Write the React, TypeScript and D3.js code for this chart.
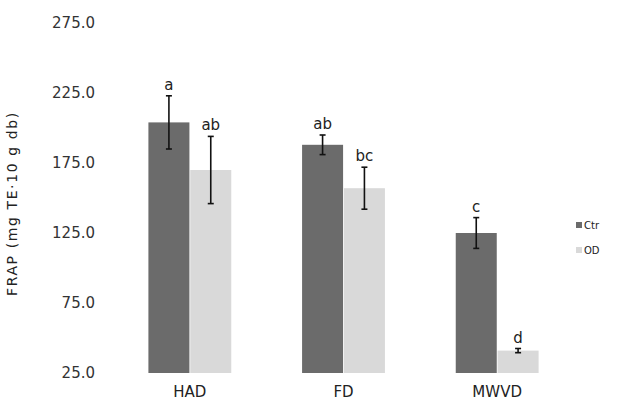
import React from "react";
import * as d3 from "d3";

// Chart data
const categories = ["HAD", "FD", "MWVD"];
const seriesNames = ["Ctr", "OD"];
const ctrValues = [204, 188, 125];
const odValues = [170, 157, 41];
const ctrErrors = [19, 7, 11];
const odErrors = [24, 15, 1.5];
const ctrLetters = ["a", "ab", "c"];
const odLetters = ["ab", "bc", "d"];
const yTicks = [25, 75, 125, 175, 225, 275];

const colors = ["#6b6b6b", "#d9d9d9"];

const width = 635;
const height = 418;

const App: React.FC = () => {
  const x = d3
    .scaleBand<string>()
    .domain(categories)
    .range([113, 574])
    .paddingInner(0.45)
    .paddingOuter(0.225);

  const xSeries = d3
    .scaleBand<string>()
    .domain(seriesNames)
    .range([0, x.bandwidth()])
    .padding(0.02);

  const y = d3.scaleLinear().domain([25, 275]).range([373, 23]);

  const rows = categories.map((c, i) => [
    { cat: c, s: "Ctr", v: ctrValues[i], e: ctrErrors[i], l: ctrLetters[i] },
    { cat: c, s: "OD", v: odValues[i], e: odErrors[i], l: odLetters[i] },
  ]);

  const font = "'DejaVu Sans', Verdana, sans-serif";

  return (
    <div style={{ position: "absolute", left: 0, top: 0 }}>
      <svg width={width} height={height} style={{ display: "block", background: "#fff" }}>
        {/* y tick labels */}
        {yTicks.map((t) => (
          <text
            key={t}
            x={95}
            y={y(t)}
            dy="0.35em"
            textAnchor="end"
            fontFamily={font}
            fontSize={15}
            fill="#333"
          >
            {d3.format(".1f")(t)}
          </text>
        ))}

        {/* y axis title */}
        <text
          transform={`translate(17, ${y(146)}) rotate(-90)`}
          textAnchor="middle"
          fontFamily={font}
          fontSize={14}
          letterSpacing={1.6}
          fill="#222"
        >
          FRAP (mg TE·10 g db)
        </text>

        {/* bars */}
        {rows.flat().map((d) => {
          const bx = (x(d.cat) as number) + (xSeries(d.s) as number);
          const bw = xSeries.bandwidth();
          const cx = bx + bw / 2;
          const top = y(d.v + d.e);
          const bot = y(d.v - d.e);
          return (
            <g key={d.cat + d.s}>
              <rect
                x={bx}
                y={y(d.v)}
                width={bw}
                height={y(25) - y(d.v)}
                fill={colors[seriesNames.indexOf(d.s)]}
              />
              <line x1={cx} x2={cx} y1={top} y2={bot} stroke="#111" strokeWidth={1.6} />
              <line x1={cx - 3} x2={cx + 3} y1={top} y2={top} stroke="#111" strokeWidth={1.6} />
              <line x1={cx - 3} x2={cx + 3} y1={bot} y2={bot} stroke="#111" strokeWidth={1.6} />
              <text
                x={cx}
                y={top - 6}
                textAnchor="middle"
                fontFamily={font}
                fontSize={15}
                fill="#222"
              >
                {d.l}
              </text>
            </g>
          );
        })}

        {/* x labels */}
        {categories.map((c) => (
          <text
            key={c}
            x={(x(c) as number) + x.bandwidth() / 2}
            y={397}
            textAnchor="middle"
            fontFamily={font}
            fontSize={15}
            fill="#222"
          >
            {c}
          </text>
        ))}

        {/* legend */}
        {seriesNames.map((s, i) => (
          <g key={s} transform={`translate(576, ${225 + i * 25})`}>
            <rect x={0} y={-3} width={6} height={6} fill={colors[i]} />
            <text x={8} y={0} dy="0.35em" fontFamily={font} fontSize={10} fill="#222">
              {s}
            </text>
          </g>
        ))}
      </svg>
    </div>
  );
};

export default App;
